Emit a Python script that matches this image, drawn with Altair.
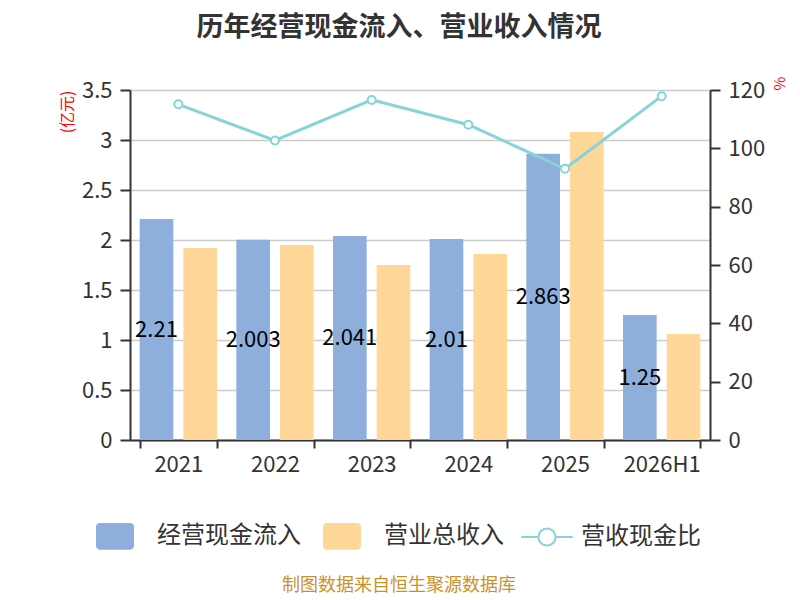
import altair as alt
import pandas as pd

years = ["2021", "2022", "2023", "2024", "2025", "2026H1"]
cash_in = [2.21, 2.003, 2.041, 2.01, 2.863, 1.25]
revenue = [1.92, 1.95, 1.75, 1.86, 3.08, 1.06]
ratio = [115.1, 102.7, 116.6, 108.1, 93.0, 117.9]

series = ["经营现金流入", "营业总收入", "营收现金比"]
colors = ["#8eaedb", "#ffd899", "#85d4d7"]
font = "Noto Sans CJK SC"

bars = pd.DataFrame({
    "year": years * 2,
    "series": [series[0]] * len(years) + [series[1]] * len(years),
    "value": cash_in + revenue,
})
line_df = pd.DataFrame({"year": years, "series": series[2], "ratio": ratio})

# legend symbols as unit paths (scaled by sqrt(symbolSize)/2)
rect_path = ("M-0.8,-0.7H0.8A0.2,0.2 0 0 1 1,-0.5V0.5A0.2,0.2 0 0 1 0.8,0.7"
             "H-0.8A0.2,0.2 0 0 1 -1,0.5V-0.5A0.2,0.2 0 0 1 -0.8,-0.7Z")
line_path = ("M-1.35,0H-0.45M0.45,0H1.35M-0.45,0A0.45,0.45 0 1 1 0.45,0"
             "A0.45,0.45 0 1 1 -0.45,0")

legend_style = dict(orient="none", direction="horizontal", title=None,
                    labelFontSize=24, labelColor="#333", labelFont=font,
                    symbolSize=1444, symbolOpacity=1)

bar_legend = alt.Legend(symbolType=rect_path, symbolStrokeWidth=0, labelOffset=23,
                        columnPadding=22, legendX=-34, legendY=427, **legend_style)
line_legend = alt.Legend(symbolType=line_path, symbolStrokeWidth=2, symbolFillColor="white",
                         labelOffset=14, legendX=397, legendY=427, **legend_style)

x_enc = alt.X("year:N", sort=years, title=None,
              scale=alt.Scale(paddingInner=0.2, paddingOuter=0.1),
              axis=alt.Axis(labelAngle=0, labelFontSize=22, labelColor="#333", labelFont=font,
                            tickBand="extent", domainColor="#333", domainWidth=2,
                            tickColor="#333", tickWidth=2, tickSize=8, labelPadding=6))
off_enc = alt.XOffset("series:N", scale=alt.Scale(domain=series[:2], paddingInner=0.23))
fill_enc = alt.Color("series:N", scale=alt.Scale(domain=series[:2], range=colors[:2]),
                     legend=bar_legend)
y_left = alt.Y("value:Q", title="(亿元)",
               scale=alt.Scale(domain=[0, 3.5], nice=False),
               axis=alt.Axis(values=[0, 0.5, 1, 1.5, 2, 2.5, 3, 3.5], format="~g",
                             labelFontSize=22, labelColor="#333", labelFont=font,
                             gridColor="#cccccc", gridWidth=1.5, domainColor="#333",
                             domainWidth=2, tickColor="#333", tickWidth=2, tickSize=10,
                             labelPadding=8, title="(亿元)", titleColor="red", titleFontSize=16,
                             titleFontWeight="normal", titleFont=font, titleAnchor="end",
                             titlePadding=6))

base = alt.Chart(bars).encode(x=x_enc, xOffset=off_enc)

blue = base.transform_filter(alt.datum.series == series[0]).mark_bar().encode(
    y=y_left, color=fill_enc)
orange = base.transform_filter(alt.datum.series == series[1]).mark_bar().encode(
    y=y_left, color=fill_enc)
labels = base.transform_filter(alt.datum.series == series[0]).transform_calculate(
    mid="datum.value / 2"
).mark_text(fontSize=22, font=font, color="#000", baseline="middle").encode(
    y=alt.Y("mid:Q", scale=alt.Scale(domain=[0, 3.5], nice=False)),
    text=alt.Text("value:Q"),
)

left = alt.layer(blue, labels, orange)

line = alt.Chart(line_df).mark_line(
    strokeWidth=3,
    point=alt.OverlayMarkDef(filled=False, fill="white", size=64, strokeWidth=2),
).encode(
    x=alt.X("year:N", sort=years),
    y=alt.Y("ratio:Q", scale=alt.Scale(domain=[0, 120], nice=False),
            axis=alt.Axis(orient="right", values=[0, 20, 40, 60, 80, 100, 120],
                          labelFontSize=22, labelColor="#333", labelFont=font, grid=False,
                          domainColor="#333", domainWidth=2, tickColor="#333", tickWidth=2,
                          tickSize=10, labelPadding=8, title="%", titleColor="red",
                          titleFontSize=15, titleFontWeight="normal", titleFont=font,
                          titleAnchor="end", titlePadding=6)),
    stroke=alt.Stroke("series:N", scale=alt.Scale(domain=series[2:], range=colors[2:]),
                      legend=line_legend),
)

main = alt.layer(left, line).resolve_scale(y="independent").properties(
    width=580, height=350,
    title=alt.TitleParams("历年经营现金流入、营业收入情况", fontSize=27, fontWeight="bold",
                          color="#333", font=font, anchor="middle", frame="group",
                          offset=34, dx=-21),
)

chart = alt.vconcat(main).properties(
    title=alt.TitleParams("制图数据来自恒生聚源数据库", orient="bottom", fontSize=18,
                          fontWeight="normal", color="#c8922a", font=font, anchor="middle",
                          frame="group", offset=27, dx=-21),
    padding={"left": 50, "top": 5, "right": 3, "bottom": 0},
).configure_view(stroke=None).configure(background="white")

chart.save("out.html", embed_options={"renderer": "svg", "actions": False})
